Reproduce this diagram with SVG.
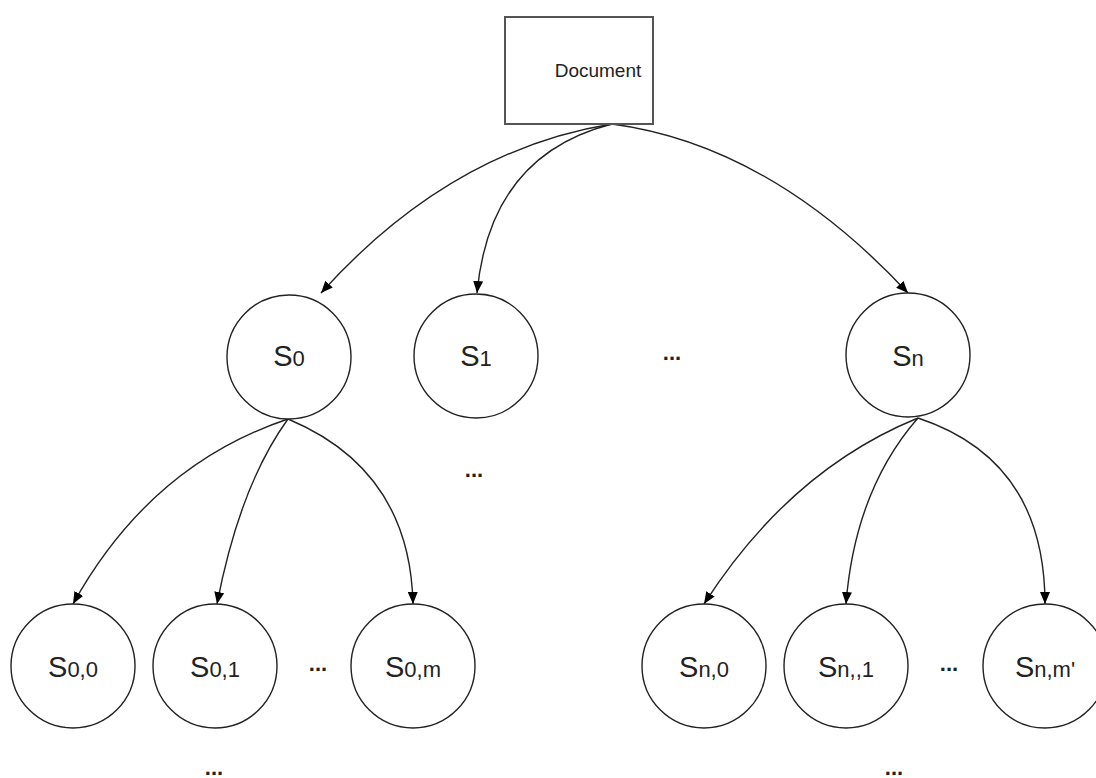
<svg xmlns="http://www.w3.org/2000/svg" width="1096" height="778" viewBox="0 0 1096 778">
<defs>
<marker id="ah" viewBox="0 0 12 10" refX="12" refY="5" markerWidth="12" markerHeight="10" markerUnits="userSpaceOnUse" orient="auto">
<path d="M0,0 L12,5 L0,10 z" fill="#000"/>
</marker>
<style>
.node{fill:#fff;stroke:#222;stroke-width:1.4}
.box{fill:#fff;stroke:#555;stroke-width:2}
.lbl{font-family:"Liberation Sans",Arial,sans-serif;fill:#222;font-size:29px;text-anchor:middle}
.sub{font-size:22px}
.doc{font-family:"Liberation Sans",Arial,sans-serif;fill:#222;font-size:19px;text-anchor:middle}
.dots{font-family:"Liberation Sans",Arial,sans-serif;fill:#222;font-size:22px;font-weight:bold;text-anchor:middle}
.edge{fill:none;stroke:#222;stroke-width:1.4;marker-end:url(#ah)}
</style>
</defs>
<rect width="1096" height="778" fill="#fff"/>
<g id="connectors">
<path class="edge" d="M612,124 Q450,150 321,293"/>
<path class="edge" d="M612,124 Q490,155 477,293"/>
<path class="edge" d="M612,124 Q770,145 908,293"/>
<path class="edge" d="M288,419 Q150,465 73,604"/>
<path class="edge" d="M288,419 Q240,485 217,604"/>
<path class="edge" d="M288,419 Q410,470 413,604"/>
<path class="edge" d="M918,418 Q790,470 704,604"/>
<path class="edge" d="M918,418 Q855,490 846,604"/>
<path class="edge" d="M918,418 Q1045,460 1045,604"/>
</g>
<g id="document">
<rect class="box" x="505" y="17" width="148" height="107"/>
<text class="doc" x="598" y="77">Document</text>
</g>
<g id="s0"><circle class="node" cx="289" cy="357" r="62"/><text class="lbl" x="289" y="366">S<tspan class="sub">0</tspan></text></g>
<g id="s1"><circle class="node" cx="476" cy="356" r="62"/><text class="lbl" x="476" y="366">S<tspan class="sub">1</tspan></text></g>
<g id="sn"><circle class="node" cx="908" cy="355" r="62"/><text class="lbl" x="908" y="366">S<tspan class="sub">n</tspan></text></g>
<g id="s00"><circle class="node" cx="73" cy="666" r="62"/><text class="lbl" x="73" y="677">S<tspan class="sub">0,0</tspan></text></g>
<g id="s01"><circle class="node" cx="215" cy="666" r="62"/><text class="lbl" x="215" y="677">S<tspan class="sub">0,1</tspan></text></g>
<g id="s0m"><circle class="node" cx="413" cy="666" r="62"/><text class="lbl" x="413" y="677">S<tspan class="sub">0,m</tspan></text></g>
<g id="sn0"><circle class="node" cx="704" cy="666" r="62"/><text class="lbl" x="704" y="677">S<tspan class="sub">n,0</tspan></text></g>
<g id="sn1"><circle class="node" cx="846" cy="666" r="62"/><text class="lbl" x="846" y="677">S<tspan class="sub">n,,1</tspan></text></g>
<g id="snm"><circle class="node" cx="1045" cy="666" r="62"/><text class="lbl" x="1045" y="677">S<tspan class="sub">n,m'</tspan></text></g>
<g id="ellipses">
<text class="dots" x="474" y="477">...</text>
<text class="dots" x="672" y="360">...</text>
<text class="dots" x="318" y="671">...</text>
<text class="dots" x="949" y="671">...</text>
<text class="dots" x="214" y="775">...</text>
<text class="dots" x="894" y="775">...</text>
</g>
</svg>
